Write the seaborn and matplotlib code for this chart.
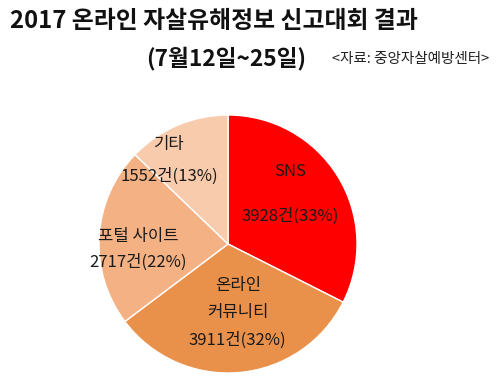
import matplotlib
matplotlib.use("Agg")
import matplotlib.pyplot as plt
import numpy as np
import seaborn as sns

# data
categories = ["SNS", "온라인\n커뮤니티", "포털 사이트", "기타"]
counts = [3928, 3911, 2717, 1552]
pct_labels = ["33%", "32%", "22%", "13%"]
colors = ["#FF0000", "#E9904A", "#F4B183", "#F8CBAD"]

sns.set_theme(style="white")
plt.rcParams["font.family"] = ["Noto Sans CJK KR", "DejaVu Sans"]

fig = plt.figure(figsize=(5.0, 3.9), dpi=100)

# title block
fig.text(0.02, 0.945, "2017 온라인 자살유해정보 신고대회 결과", fontsize=17.2,
         fontweight="bold", ha="left", va="center", color="#111111")
fig.text(0.453, 0.85, "(7월12일~25일)", fontsize=16.3, fontweight="bold",
         ha="center", va="center", color="#111111")
fig.text(0.665, 0.85, "<자료: 중앙자살예방센터>", fontsize=10.5,
         ha="left", va="center", color="#222222")

# pie area: centre ~(228, 244) px, radius ~128 px
r_px = 129
ax = fig.add_axes([(228 - r_px) / 500, (390 - 244 - r_px) / 390,
                   2 * r_px / 500, 2 * r_px / 390])
wedges, _ = ax.pie(counts, colors=colors, startangle=90, counterclock=False,
                   wedgeprops=dict(edgecolor="white", linewidth=1.0))
ax.set_xlim(-1, 1)
ax.set_ylim(-1, 1)
ax.set_aspect("auto")
ax.axis("off")

# label placement per slice: (radial distance, angle nudge deg, line spacing)
label_pos = [(0.62, 7, 3.1), (0.54, 3, 1.8), (0.70, 7, 1.65), (0.79, 12, 2.1)]

for w, name, n, pct, (rd, nudge, ls) in zip(wedges, categories, counts, pct_labels, label_pos):
    mid = np.deg2rad((w.theta1 + w.theta2) / 2 + nudge)
    x, y = rd * np.cos(mid), rd * np.sin(mid)
    ax.text(x, y, f"{name}\n{n}건({pct})", ha="center", va="center",
            fontsize=12, linespacing=ls, color="#1a1a1a")

fig.savefig("out.png", dpi=100)
